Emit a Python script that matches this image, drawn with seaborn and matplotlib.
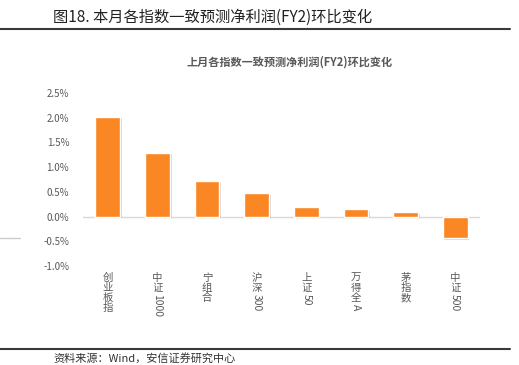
import matplotlib
matplotlib.use("Agg")
import matplotlib.pyplot as plt
import seaborn as sns
import pandas as pd
from matplotlib.lines import Line2D
import matplotlib.patheffects as pe
from matplotlib.ticker import FuncFormatter, FixedLocator

categories = ["创业板指", "中证1000", "宁组合", "沪深300", "上证50", "万得全A", "茅指数", "中证500"]
values = [2.02, 1.29, 0.72, 0.47, 0.19, 0.155, 0.095, -0.44]
yticks = [-1.0, -0.5, 0.0, 0.5, 1.0, 1.5, 2.0, 2.5]
header = "图18. 本月各指数一致预测净利润(FY2)环比变化"
chart_title = "上月各指数一致预测净利润(FY2)环比变化"
footer = "资料来源：Wind，安信证券研究中心"

sns.set_theme(style="white")
plt.rcParams['font.family'] = ['Noto Sans CJK SC', 'DejaVu Sans']

W, H = 519, 365
fig = plt.figure(figsize=(W / 100, H / 100), dpi=100)
fig.patch.set_facecolor("white")
ax = fig.add_axes([83 / W, 1 - 266 / H, (480 - 83) / W, (266 - 93) / H])

df = pd.DataFrame({"cat": categories, "val": values})
sns.barplot(data=df, x="cat", y="val", color="#FA8723", width=0.5, ax=ax,
            saturation=1, zorder=3)
for p in ax.patches:
    p.set_path_effects([pe.SimplePatchShadow(offset=(1.2, -1.2), shadow_rgbFace="#aaaaaa", alpha=0.5),
                        pe.Normal()])

ax.set_xlim(-0.5, len(categories) - 0.5)
ax.set_ylim(min(yticks), max(yticks))
ax.axhline(0, color="#D9D9D9", lw=1, zorder=1)
for s in ax.spines.values():
    s.set_visible(False)
ax.set_xlabel("")
ax.set_ylabel("")
ax.yaxis.set_major_locator(FixedLocator(yticks))
ax.yaxis.set_major_formatter(FuncFormatter(lambda v, _: f"{v:.1f}%"))
ax.tick_params(axis="y", length=0, pad=10, labelsize=7, labelcolor="#595959")
ax.set_xticks(range(len(categories)))
ax.set_xticklabels([])
ax.tick_params(axis="x", length=0)
ax.set_facecolor("white")

# vertical category labels: CJK stacked upright, ASCII part rotated
fig.canvas.draw()
renderer = fig.canvas.get_renderer()
for i, lab in enumerate(categories):
    k = len(lab)
    while k > 0 and ord(lab[k - 1]) < 128:
        k -= 1
    cjk, asc = lab[:k], lab[k:]
    t = ax.annotate("\n".join(cjk), xy=(i, 0), xycoords=("data", "axes fraction"),
                    xytext=(0, -7), textcoords="offset pixels", ha="center", va="top",
                    fontsize=7.5, color="#595959", linespacing=1.0)
    if asc:
        bb = t.get_window_extent(renderer)
        ax0 = ax.transAxes.transform((0, 0))[1]
        off = bb.y0 - ax0 - 0.5
        ax.annotate(asc, xy=(i, 0), xycoords=("data", "axes fraction"),
                    xytext=(0, off), textcoords="offset pixels", ha="center", va="top",
                    rotation=-90, fontsize=7.5, color="#595959")

fig.text(53 / W, 1 - 17 / H, header, fontsize=11, va="center", ha="left", color="#222222",
         weight="medium")
fig.text(290 / W, 1 - 62 / H, chart_title, fontsize=8, va="center", ha="center",
         color="#595959", weight="bold")
fig.text(53 / W, 1 - 358 / H, footer, fontsize=8, va="center", ha="left", color="#333333")

fig.add_artist(Line2D([0, 510 / W], [1 - 29 / H, 1 - 29 / H], color="#3a3a3a", lw=1.5))
fig.add_artist(Line2D([0, 510 / W], [1 - 349 / H, 1 - 349 / H], color="#3a3a3a", lw=1.5))
fig.add_artist(Line2D([0, 20 / W], [1 - 238 / H, 1 - 238 / H], color="#cccccc", lw=1))

fig.savefig("out.png", dpi=100, facecolor="white")
